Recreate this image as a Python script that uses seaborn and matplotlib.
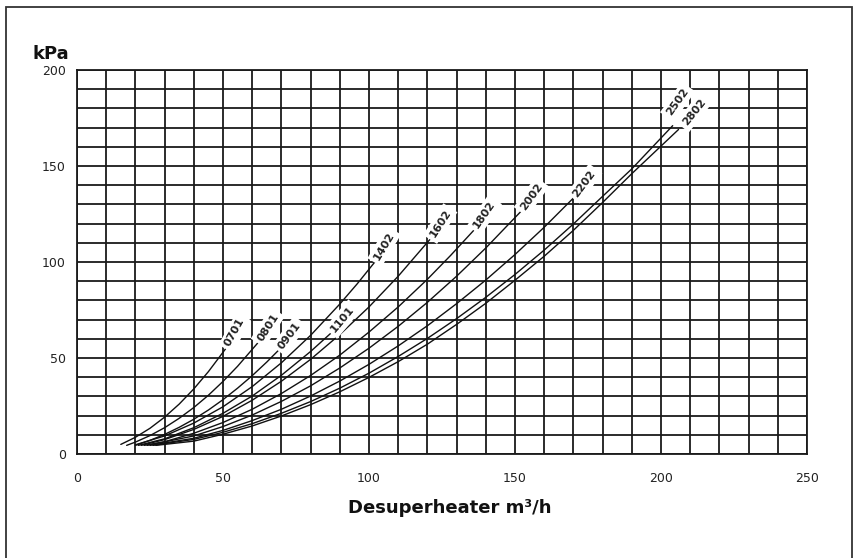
import numpy as np
import pandas as pd
import matplotlib
matplotlib.use("Agg")
import matplotlib.pyplot as plt
from matplotlib.patches import Rectangle
from matplotlib.ticker import MultipleLocator
import seaborn as sns

# Pressure drop curves per desuperheater model (flow m3/h, pressure kPa)
models = ["0701", "0801", "0901", "1101", "1402", "1602",
          "1802", "2002", "2202", "2502", "2802"]

flow_0701 = [15, 20, 25, 30, 35, 40, 45, 51]
dp_0701 = [5.0, 8.7, 13.4, 19.2, 26.0, 33.9, 42.9, 55.0]

flow_0801 = [17, 20, 25, 30, 35, 40, 45, 50, 55, 62]
dp_0801 = [4.5, 6.2, 9.6, 13.7, 18.6, 24.2, 30.6, 37.8, 45.7, 58.0]

flow_0901 = [20, 25, 30, 35, 40, 45, 50, 55, 60, 65, 69]
dp_0901 = [4.5, 7.1, 10.2, 13.9, 18.1, 22.9, 28.3, 34.3, 40.8, 47.9, 54.0]

flow_1101 = [21, 30, 40, 50, 60, 70, 80, 87]
dp_1101 = [4.5, 7.9, 13.7, 21.2, 30.2, 41.0, 53.4, 63.0]

flow_1402 = [20, 30, 40, 50, 60, 70, 80, 90, 96, 102]
dp_1402 = [4.8, 9.4, 16.1, 24.6, 35.1, 47.5, 61.8, 78.1, 88.7, 100.0]

flow_1602 = [22, 30, 40, 50, 60, 70, 80, 90, 100, 110, 121]
dp_1602 = [4.5, 7.5, 12.8, 19.6, 28.0, 37.9, 49.3, 62.2, 76.6, 92.6, 112.0]

flow_1802 = [23, 30, 40, 50, 60, 70, 80, 90, 100, 110, 120, 128, 136]
dp_1802 = [4.5, 6.4, 10.8, 16.4, 23.3, 31.5, 40.9, 51.5, 63.5, 76.6, 91.0, 103.5, 116.7]

flow_2002 = [24, 40, 50, 60, 70, 80, 90, 100, 110, 120, 130, 140, 152]
dp_2002 = [4.5, 9.4, 14.3, 20.3, 27.4, 35.5, 44.8, 55.1, 66.5, 79.0, 92.6, 107.3, 126.3]

flow_2202 = [25, 40, 50, 60, 70, 80, 90, 100, 110, 120, 130, 140, 150, 160, 170]
dp_2202 = [4.5, 8.2, 12.3, 17.4, 23.3, 30.2, 38.0, 46.7, 56.3, 66.8, 78.3, 90.6, 103.9, 118.1, 133.3]

flow_2502 = [26, 40, 50, 60, 70, 80, 90, 100, 110, 120, 130, 140, 150, 160, 170, 180, 190, 204]
dp_2502 = [4.5, 7.6, 11.3, 15.8, 21.2, 27.3, 34.3, 42.1, 50.8, 60.2, 70.5, 81.6, 93.5, 106.2, 119.8, 134.2, 148.5, 171.0]

flow_2802 = [27, 40, 50, 60, 70, 80, 90, 100, 110, 120, 130, 140, 150, 160, 170, 180, 190, 206]
dp_2802 = [4.5, 6.7, 10.3, 14.6, 19.8, 25.7, 32.4, 39.9, 48.1, 57.2, 67.5, 78.5, 90.5, 103.0, 116.5, 131.0, 146.0, 169.0]

x_ticks = [0, 50, 100, 150, 200, 250]
y_ticks = [0, 50, 100, 150, 200]

series = {
    "0701": (flow_0701, dp_0701), "0801": (flow_0801, dp_0801),
    "0901": (flow_0901, dp_0901), "1101": (flow_1101, dp_1101),
    "1402": (flow_1402, dp_1402), "1602": (flow_1602, dp_1602),
    "1802": (flow_1802, dp_1802), "2002": (flow_2002, dp_2002),
    "2202": (flow_2202, dp_2202), "2502": (flow_2502, dp_2502),
    "2802": (flow_2802, dp_2802),
}

# extra nudge (points) so the two stacked top labels do not collide
label_nudge = {"2502": (-4.0, 6.5), "2802": (3.0, 2.0)}

rows = []
for m in models:
    fx, fy = series[m]
    for a, b in zip(fx, fy):
        rows.append({"model": m, "flow": a, "dp": b})
df = pd.DataFrame(rows)

sns.set_style("white")
plt.rcParams["font.family"] = ["DejaVu Sans"]

W, H = 856, 558
fig = plt.figure(figsize=(W / 100, H / 100), dpi=100)
ax = fig.add_axes([77 / W, 1 - 454 / H, (807 - 77) / W, (454 - 70) / H])

grid_col = "#1a1a1a"
ax.set_xlim(0, 250)
ax.set_ylim(0, 200)
ax.xaxis.set_minor_locator(MultipleLocator(10))
ax.yaxis.set_minor_locator(MultipleLocator(10))
ax.set_xticks(x_ticks)
ax.set_yticks(y_ticks)
ax.grid(True, which="both", color=grid_col, linewidth=1.3)
ax.set_axisbelow(True)
for s in ax.spines.values():
    s.set_color(grid_col)
    s.set_linewidth(1.3)
ax.tick_params(axis="both", which="both", length=0)
ax.tick_params(axis="x", pad=13, labelsize=9, labelcolor="#222222")
ax.tick_params(axis="y", pad=8, labelsize=9, labelcolor="#222222")

sns.lineplot(data=df, x="flow", y="dp", hue="model",
             palette=["#111111"] * len(models), estimator=None, sort=False,
             legend=False, linewidth=1.0, ax=ax, zorder=3)
ax.set_xlabel("")
ax.set_ylabel("")

# Model labels at the end of each curve, roughly following its tangent
fig.canvas.draw()
for m in models:
    fx, fy = series[m]
    p1 = ax.transData.transform((fx[-2], fy[-2]))
    p2 = ax.transData.transform((fx[-1], fy[-1]))
    ang = np.degrees(np.arctan2(p2[1] - p1[1], p2[0] - p1[0])) + 8
    nx, ny = label_nudge.get(m, (0.0, 0.0))
    ax.annotate(m, xy=(fx[-1], fy[-1]),
                xytext=(2 * np.cos(np.radians(ang)) + nx, 2 * np.sin(np.radians(ang)) + ny),
                textcoords="offset points", rotation=ang, rotation_mode="anchor",
                ha="left", va="center", fontsize=8, fontweight="bold", color="#222222",
                bbox=dict(boxstyle="square,pad=0.3", fc="white", ec="none"), zorder=5)

fig.text(32 / W, 1 - 54 / H, "kPa", fontsize=13, fontweight="bold", ha="left", va="center", color="#111111")
fig.text(450 / W, 1 - 508 / H, "Desuperheater m³/h", fontsize=13, fontweight="bold",
         ha="center", va="center", color="#111111")

frame = Rectangle((6 / W, -0.2), (852 - 6) / W, 1 - 7 / H + 0.2, transform=fig.transFigure,
                  fill=False, ec="#333333", lw=1.3)
fig.patches.append(frame)

fig.savefig("out.png", dpi=100, facecolor="white")
